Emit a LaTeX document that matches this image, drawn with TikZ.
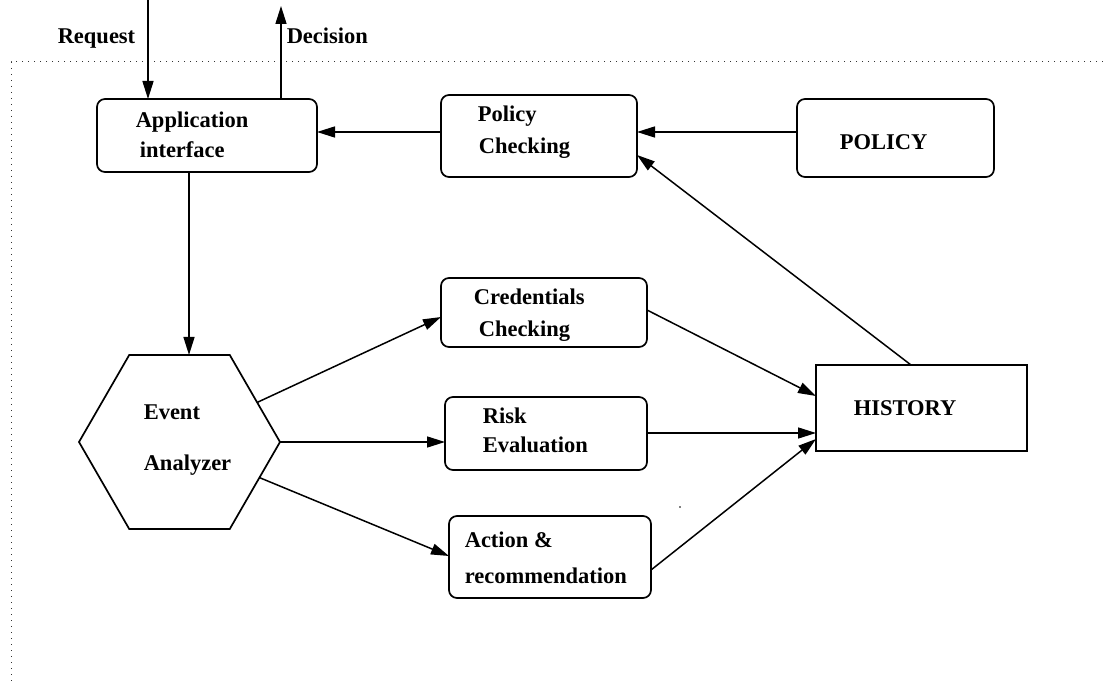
\documentclass[tikz,border=0pt]{standalone}
\usepackage{fontspec}
\setmainfont{Liberation Serif}
\usetikzlibrary{arrows.meta,shapes.geometric}
\begin{document}
\begin{tikzpicture}[x=1pt,y=-1pt,
  line width=1.5pt,
  box/.style={draw,line width=1.7pt,rounded corners=8pt,inner sep=0pt,outer sep=0pt},
  sbox/.style={draw,line width=1.7pt,inner sep=0pt,outer sep=0pt},
  lbl/.style={anchor=base west,inner sep=0pt,font=\fontsize{22.5}{27}\selectfont\bfseries},
  arr/.style={-{Triangle[length=18pt,width=11pt]}},
  frame/.style={line width=1pt,dash pattern=on 1pt off 5pt,black!80}]
\useasboundingbox (0,0) rectangle (1103,684);
% dotted frame
\coordinate (fa) at (1103,62);
\coordinate (fb) at (11,62);
\coordinate (fc) at (11,684);
\draw[frame] (fa) -- (fb) -- (fc);
% boxes
\node[box,minimum width=220pt,minimum height=73pt] (app) at (207,135.5) {};
\node[box,minimum width=196pt,minimum height=82pt] (pchk) at (539,136) {};
\node[box,minimum width=197pt,minimum height=78pt] (pol) at (895.5,138) {};
\node[sbox,minimum width=211pt,minimum height=86pt] (hist) at (921.5,408) {};
\node[box,minimum width=206pt,minimum height=69pt] (cred) at (544,312.5) {};
\node[box,minimum width=202pt,minimum height=73pt] (risk) at (546,433.5) {};
\node[box,minimum width=202pt,minimum height=82pt] (act) at (550,557) {};
\node[draw,line width=1.7pt,regular polygon,regular polygon sides=6,minimum size=201pt,inner sep=0pt,outer sep=0pt] (ev) at (179.5,442) {};
% labels
\node[lbl] (treq) at (57,44) {Request};
\node[lbl] (tdec) at (286,44) {Decision};
\node[lbl] (tapp1) at (135,128) {Application};
\node[lbl] (tapp2) at (139,158) {interface};
\node[lbl] (tpc1) at (477,122) {Policy};
\node[lbl] (tpc2) at (478,154) {Checking};
\node[lbl] (tpol) at (839,150) {POLICY};
\node[lbl] (thist) at (853,415) {HISTORY};
\node[lbl] (tcr1) at (473,305) {Credentials};
\node[lbl] (tcr2) at (478,337) {Checking};
\node[lbl] (trk1) at (482,424) {Risk};
\node[lbl] (trk2) at (482,452) {Evaluation};
\node[lbl] (tac1) at (464,547) {Action \&};
\node[lbl] (tac2) at (464,583) {recommendation};
\node[lbl] (tev1) at (143,420) {Event};
\node[lbl] (tev2) at (143,470) {Analyzer};
% free ends
\coordinate (reqtop) at (148,0);
\coordinate (dectop) at (281,6);
% connectors
\draw[arr] (reqtop) -- (app.north -| reqtop);
\draw[arr] (app.north -| dectop) -- (dectop);
\draw[arr] (pchk.west |- 0,132) -- (app.east |- 0,132);
\draw[arr] (pol.west |- 0,132) -- (pchk.east |- 0,132);
\draw[arr] (hist.north -| 911,0) -- (pchk.east |- 0,155);
\draw[arr] (app.south -| 189,0) -- (ev.north -| 189,0);
\draw[arr] (ev.27.6) -- (cred.west |- 0,317);
\draw[arr] (ev.east) -- (risk.west |- ev.east);
\draw[arr] (ev.-24.2) -- (act.west |- 0,556);
\draw[arr] (cred.east |- 0,310) -- (hist.west |- 0,396);
\draw[arr] (risk.east |- 0,433) -- (hist.west |- 0,433);
\draw[arr] (act.east |- 0,570) -- (hist.west |- 0,439);
% stray dot
\fill (680,507) circle (0.9);
\end{tikzpicture}
\end{document}
